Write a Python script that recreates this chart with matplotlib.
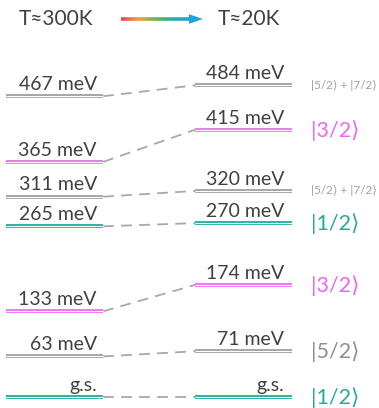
import numpy as np
import matplotlib
matplotlib.use("Agg")
import matplotlib.pyplot as plt
from matplotlib.collections import LineCollection
from matplotlib.colors import LinearSegmentedColormap
from matplotlib.patches import Polygon

# Crystal-field levels (meV) at room temperature and at low temperature
levels_300K = [0, 63, 133, 265, 311, 365, 467]
levels_20K = [0, 71, 174, 270, 320, 415, 484]
labels_300K = ["g.s.", "63 meV", "133 meV", "265 meV", "311 meV", "365 meV", "467 meV"]
labels_20K = ["g.s.", "71 meV", "174 meV", "270 meV", "320 meV", "415 meV", "484 meV"]
level_kind = ["half", "five", "three", "half", "mix", "three", "mix"]
state_labels = ["|1/2⟩", "|5/2⟩", "|3/2⟩", "|1/2⟩", "|5/2⟩ + |7/2⟩", "|3/2⟩", "|5/2⟩ + |7/2⟩"]
header_left = "T≈300K"
header_right = "T≈20K"

GRAY = "#a6a6a6"
PINK = "#f274f2"
TEAL = "#2bb0a6"
TEXT = "#404040"
kind_color = {"half": TEAL, "five": GRAY, "three": PINK, "mix": GRAY}
ket_color = {"half": "#2aa89f", "five": "#8f8f8f", "three": "#ee66ee", "mix": "#a0a0a0"}

FONT = ["Lato", "DejaVu Sans"]

W, H = 379, 408
fig = plt.figure(figsize=(W / 100, H / 100), dpi=100)
ax = fig.add_axes([0, 0, 1, 1])
ax.set_xlim(0, W)
scale = 0.644  # px per meV
ax.set_ylim(-(H - 397) / scale, 397 / scale)
ax.axis("off")

xl0, xl1 = 6, 103
xr0, xr1 = 195, 292


def level(x0, x1, e, color):
    ax.plot([x0, x1], [e, e], color=color, lw=2.8, solid_capstyle="butt", zorder=3)
    ax.plot([x0, x1], [e, e], color="white", lw=0.75, solid_capstyle="butt", zorder=4)


for i in range(len(levels_300K)):
    eL, eR = levels_300K[i], levels_20K[i]
    c = kind_color[level_kind[i]]
    level(xl0, xl1, eL, c)
    level(xr0, xr1, eR, c)
    ax.plot([xl1, xr0], [eL, eR], color="#a8a8a8", lw=1.3,
            dashes=(6, 4), zorder=2)
    ax.text(xl1 - 6, eL + 5, labels_300K[i], ha="right", va="bottom",
            fontsize=14, color=TEXT, family=FONT)
    ax.text(xr1 - 8, eR + 5, labels_20K[i], ha="right", va="bottom",
            fontsize=14, color=TEXT, family=FONT)
    k = level_kind[i]
    if k == "mix":
        ax.text(311, eR, state_labels[i], ha="left", va="center",
                fontsize=8.5, color=ket_color[k], family=FONT)
    else:
        ax.text(311, eR - 1, state_labels[i], ha="left", va="center",
                fontsize=15.5, color=ket_color[k], family=FONT)

# Header
yh = (397 - 19) / scale
ax.text(56, yh, header_left, ha="center", va="center", fontsize=15,
        color=TEXT, family=FONT)
ax.text(249, yh, header_right, ha="center", va="center", fontsize=15,
        color=TEXT, family=FONT)

# Temperature arrow with a warm-to-cold colour gradient
cmap = LinearSegmentedColormap.from_list(
    "temp", ["#e8454f", "#f0a030", "#60b84a", "#22b0b0", "#1ea2e0"])
xs = np.linspace(121, 191, 80)
segs = [[(xs[j], yh), (xs[j + 1], yh)] for j in range(len(xs) - 1)]
lc = LineCollection(segs, colors=cmap(np.linspace(0, 1, len(segs))),
                    linewidths=2.6, capstyle="butt", zorder=5)
ax.add_collection(lc)
hh = 4.8 / scale
ax.add_patch(Polygon([(189, yh + hh), (203, yh), (189, yh - hh)],
                     closed=True, color="#1ea2e0", lw=0, zorder=6))

fig.savefig("out.png", dpi=100)
